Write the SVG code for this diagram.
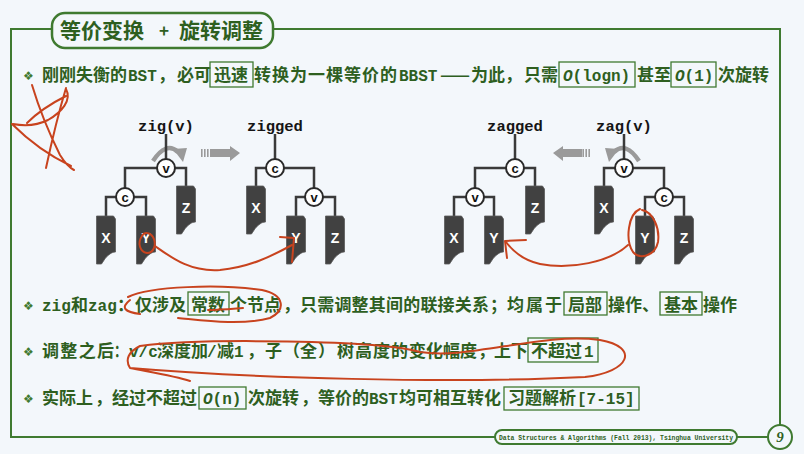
<svg xmlns="http://www.w3.org/2000/svg" xmlns:xlink="http://www.w3.org/1999/xlink" width="804" height="454" viewBox="0 0 804 454">
<style>
.t{font-family:"Noto Sans CJK SC","Noto Sans",sans-serif;font-weight:bold;font-size:17px;fill:#2e5f1f}
.m{font-family:"Liberation Mono","DejaVu Sans Mono",monospace;font-weight:bold;font-size:16px;fill:#2e5f1f}
.it{font-style:italic}
.bul{font-family:"DejaVu Sans",sans-serif;font-size:12px;fill:#3f7a30}
.box{fill:none;stroke:#3f7a30;stroke-width:1.3}
.frame{fill:none;stroke:#3f7a30;stroke-width:2}
.edge{fill:none;stroke:#3a3a3a;stroke-width:2.5}
.node circle{fill:#fff;stroke:#2a2a2a;stroke-width:2}
.nl{font-family:"Liberation Sans",sans-serif;font-weight:bold;font-size:13px;text-anchor:middle;fill:#111}
.leaf use{fill:#414141;stroke:#5a5a5a;stroke-width:0.8}
.ll{font-family:"Liberation Sans",sans-serif;font-weight:bold;font-size:14px;text-anchor:middle;fill:#fff}
.lab{font-family:"Liberation Mono","DejaVu Sans Mono",monospace;font-weight:bold;font-size:15.5px;text-anchor:middle;fill:#151515}
.gray{fill:#9a9a9a}
.rot{fill:none;stroke:#9a9a9a;stroke-width:4.5}
.red{fill:none;stroke:#c8431e;stroke-width:2;stroke-linecap:round;stroke-linejoin:round}
</style>
<defs>
<path id="leaf" d="M0,0 H17 L19,3 V36 C15,36 12,39 9,42 L5,48 H0 Z"/>
</defs>
<rect width="804" height="454" fill="#f3f7fb"/>

<g id="frame">
<path class="frame" d="M52,29 H11 V437 H495 M737,437 H768 M273,29 H780 V425"/>
<rect x="52" y="13" width="221" height="35" rx="13" fill="#f3f7fb" stroke="#3f7a30" stroke-width="2.5"/>
<text x="60" y="38" style="font-family:'Noto Sans CJK SC',sans-serif;font-weight:bold;font-size:21px;fill:#2e5f1f">等价变换</text>
<text x="159" y="37" style="font-family:'Noto Sans CJK SC',sans-serif;font-weight:bold;font-size:17px;fill:#2e5f1f">+</text>
<text x="179" y="38" style="font-family:'Noto Sans CJK SC',sans-serif;font-weight:bold;font-size:21px;fill:#2e5f1f">旋转调整</text>
<rect x="495" y="430" width="242" height="14" rx="7" fill="#f3f7fb" stroke="#3f7a30" stroke-width="2"/>
<text x="616" y="440" text-anchor="middle" style="font-family:'Liberation Mono',monospace;font-weight:bold;font-size:6.4px;fill:#2e5f1f">Data Structures &amp; Algorithms (Fall 2013), Tsinghua University</text>
<circle cx="780" cy="437" r="12" fill="#f3f7fb" stroke="#3f7a30" stroke-width="2"/>
<text x="780" y="442" text-anchor="middle" style="font-family:'Liberation Serif',serif;font-style:italic;font-weight:bold;font-size:15px;fill:#2e5f1f">9</text>
</g>

<g id="line1">
<text class="bul" x="23" y="80">❖</text>
<text class="t" x="42" y="81">刚刚失衡的</text>
<text class="m" x="128" y="81">BST</text>
<text class="t" x="158" y="81">，</text>
<text class="t" x="177" y="81">必可</text>
<rect class="box" x="210" y="62" width="43" height="25"/>
<text class="t" x="214" y="81">迅速</text>
<text class="t" x="254" y="81" textLength="143">转换为一棵等价的</text>
<text class="m" x="399" y="81">BBST</text>
<text class="t" x="440" y="81" textLength="30" lengthAdjust="spacingAndGlyphs">——</text>
<text class="t" x="471" y="81">为此</text>
<text class="t" x="505" y="81">，</text>
<text class="t" x="524" y="81">只需</text>
<rect class="box" x="559" y="62" width="76" height="25"/>
<text class="m" x="563" y="81"><tspan class="it">O</tspan>(logn)</text>
<text class="t" x="637" y="81">甚至</text>
<rect class="box" x="671" y="62" width="45" height="25"/>
<text class="m" x="675" y="81"><tspan class="it">O</tspan>(1)</text>
<text class="t" x="718" y="81">次旋转</text>
</g>

<g id="line2">
<text class="bul" x="23" y="310">❖</text>
<text class="m" x="42" y="311">zig</text>
<text class="t" x="71" y="311">和</text>
<text class="m" x="88" y="311">zag</text>
<text class="t" x="117" y="311">：</text>
<text class="t" x="135" y="311">仅涉及</text>
<rect class="box" x="188" y="292" width="41" height="23"/>
<text class="t" x="191" y="311">常数</text>
<text class="t" x="230" y="311">个节点</text>
<text class="t" x="283" y="311">，</text>
<text class="t" x="300" y="311" textLength="189">只需调整其间的联接关系</text>
<text class="t" x="490" y="311">；</text>
<text class="t" x="507" y="311" textLength="55">均属于</text>
<rect class="box" x="564" y="292" width="43" height="23"/>
<text class="t" x="568" y="311">局部</text>
<text class="t" x="608" y="311">操作</text>
<text class="t" x="642" y="311">、</text>
<rect class="box" x="660" y="292" width="42" height="23"/>
<text class="t" x="664" y="311">基本</text>
<text class="t" x="703" y="311">操作</text>
</g>

<g id="line3">
<text class="bul" x="23" y="356">❖</text>
<text class="t" x="42" y="357" textLength="72">调整之后</text>
<text class="t" x="114" y="357" textLength="13" lengthAdjust="spacingAndGlyphs">：</text>
<text class="m" x="129" y="357">v/c</text>
<text class="t" x="157" y="357">深度加</text>
<text class="m" x="207" y="357">/</text>
<text class="t" x="217" y="357">减</text>
<text class="m" x="234" y="357">1</text>
<text class="t" x="247" y="357">，</text>
<text class="t" x="265" y="357">子</text>
<text class="t" x="283" y="357">（</text>
<text class="t" x="300" y="357">全</text>
<text class="t" x="318" y="357">）</text>
<text class="t" x="337" y="357" textLength="71">树高度的</text>
<text class="t" x="409" y="357">变化幅度</text>
<text class="t" x="478" y="357">，</text>
<text class="t" x="494" y="357">上下</text>
<rect class="box" x="528" y="338" width="70" height="24"/>
<text class="t" x="531" y="357">不超过</text>
<text class="m" x="584" y="357">1</text>
</g>

<g id="line4">
<text class="bul" x="23" y="403">❖</text>
<text class="t" x="42" y="404">实际上</text>
<text class="t" x="95" y="404">，</text>
<text class="t" x="112" y="404">经过不超过</text>
<rect class="box" x="199" y="387" width="47" height="22"/>
<text class="m" x="203" y="404"><tspan class="it">O</tspan>(n)</text>
<text class="t" x="248" y="404">次旋转</text>
<text class="t" x="301" y="404">，</text>
<text class="t" x="318" y="404">等价的</text>
<text class="m" x="369" y="404">BST</text>
<text class="t" x="399" y="404">均可相互转化</text>
<rect class="box" x="504" y="387" width="135" height="23"/>
<text class="t" x="508" y="404">习题解析</text>
<text class="m" x="577" y="404">[7-15]</text>
</g>

<g id="labels">
<text class="lab" x="166" y="131">zig(v)</text>
<text class="lab" x="275" y="131">zigged</text>
<text class="lab" x="515" y="131">zagged</text>
<text class="lab" x="624" y="131">zag(v)</text>
</g>

<g id="decor">
<path class="rot" d="M153,161 Q166,141 178,152"/>
<polygon class="gray" points="173,149 187,148 183,162"/>
<rect class="gray" x="201" y="149" width="1.6" height="8"/>
<rect class="gray" x="204" y="149" width="1.6" height="8"/>
<rect class="gray" x="207" y="149" width="1.6" height="8"/>
<polygon class="gray" points="210,149 230,149 230,146 240,153 230,161 230,157 210,157"/>
<path class="rot" d="M639,161 Q626,141 614,152"/>
<polygon class="gray" points="619,149 605,148 609,162"/>
<rect class="gray" x="588.4" y="149" width="1.6" height="8"/>
<rect class="gray" x="585.4" y="149" width="1.6" height="8"/>
<rect class="gray" x="582.4" y="149" width="1.6" height="8"/>
<polygon class="gray" points="582,149 563,149 563,146 553,153 563,161 563,157 582,157"/>
</g>

<g id="connectors">
<path class="edge" d="M166,134 V159 M125,188 V168 H186 V186 M106,216 V197 H146 V216"/>
<path class="edge" d="M275,134 V159 M256,186 V168 H314 V188 M296,216 V197 H335 V216"/>
<path class="edge" d="M515,134 V159 M475,188 V168 H535 V186 M454,216 V197 H494 V216"/>
<path class="edge" d="M624,134 V159 M604,186 V168 H664 V188 M645,216 V197 H684 V216"/>
</g>

<g id="zig-v" class="node"><circle cx="166" cy="168" r="9"/><text class="nl" x="166" y="172.5">v</text></g>
<g id="zig-c" class="node"><circle cx="125" cy="197" r="9"/><text class="nl" x="125" y="201.5">c</text></g>
<g id="zig-X" class="leaf"><use xlink:href="#leaf" x="96.5" y="216"/><text class="ll" x="106" y="243">X</text></g>
<g id="zig-Y" class="leaf"><use xlink:href="#leaf" x="136.5" y="216"/><text class="ll" x="146" y="243">Y</text></g>
<g id="zig-Z" class="leaf"><use xlink:href="#leaf" x="176.5" y="186"/><text class="ll" x="186" y="213">Z</text></g>

<g id="zigged-c" class="node"><circle cx="275" cy="168" r="9"/><text class="nl" x="275" y="172.5">c</text></g>
<g id="zigged-v" class="node"><circle cx="314" cy="197" r="9"/><text class="nl" x="314" y="201.5">v</text></g>
<g id="zigged-X" class="leaf"><use xlink:href="#leaf" x="246.5" y="186"/><text class="ll" x="256" y="213">X</text></g>
<g id="zigged-Y" class="leaf"><use xlink:href="#leaf" x="286.5" y="216"/><text class="ll" x="296" y="243">Y</text></g>
<g id="zigged-Z" class="leaf"><use xlink:href="#leaf" x="325.5" y="216"/><text class="ll" x="335" y="243">Z</text></g>

<g id="zagged-c" class="node"><circle cx="515" cy="168" r="9"/><text class="nl" x="515" y="172.5">c</text></g>
<g id="zagged-v" class="node"><circle cx="475" cy="197" r="9"/><text class="nl" x="475" y="201.5">v</text></g>
<g id="zagged-X" class="leaf"><use xlink:href="#leaf" x="444.5" y="216"/><text class="ll" x="454" y="243">X</text></g>
<g id="zagged-Y" class="leaf"><use xlink:href="#leaf" x="484.5" y="216"/><text class="ll" x="494" y="243">Y</text></g>
<g id="zagged-Z" class="leaf"><use xlink:href="#leaf" x="525.5" y="186"/><text class="ll" x="535" y="213">Z</text></g>

<g id="zag-v" class="node"><circle cx="624" cy="168" r="9"/><text class="nl" x="624" y="172.5">v</text></g>
<g id="zag-c" class="node"><circle cx="664" cy="197" r="9"/><text class="nl" x="664" y="201.5">c</text></g>
<g id="zag-X" class="leaf"><use xlink:href="#leaf" x="594.5" y="186"/><text class="ll" x="604" y="213">X</text></g>
<g id="zag-Y" class="leaf"><use xlink:href="#leaf" x="635.5" y="216"/><text class="ll" x="645" y="243">Y</text></g>
<g id="zag-Z" class="leaf"><use xlink:href="#leaf" x="674.5" y="216"/><text class="ll" x="684" y="243">Z</text></g>

<g id="annotations">
<path class="red" d="M32,85 C38,105 50,135 60,155 C65,163 70,168 74,170 M66,88 C60,108 52,140 46,168 M66,89 C72,100 62,112 48,120 C36,126 24,126 13,124 M12,124 C28,140 50,156 71,166 M27,123 C38,112 52,103 66,96"/>
<path class="red" d="M142,236 C137,243 140,252 147,253 C154,253 157,244 153,237 C150,232 144,232 142,236"/>
<path class="red" d="M155,246 C172,258 190,272 220,270 C250,267 272,256 292,245"/>
<path class="red" d="M280,237 L294,238 L292,262"/>
<path class="red" d="M640,209 C628,214 625,240 633,252 C640,260 655,256 658,242 C660,228 653,212 642,210"/>
<path class="red" d="M628,245 C610,262 570,270 540,264 C522,260 512,250 506,242"/>
<path class="red" d="M526,240 L505,241 L507,258"/>
<path class="red" d="M128,297 C150,286 220,284 262,290 C285,295 286,310 270,318 C240,326 200,320 178,318 M130,300 C120,308 125,312 140,314 M243,308 C230,309 220,310 208,310"/>
<path class="red" d="M140,346 C200,338 380,340 420,352 C470,360 540,332 600,340 C640,347 630,372 585,377 C450,384 250,378 130,368 C125,360 128,352 140,346 M130,368 C150,372 175,376 190,381"/>
</g>
</svg>
